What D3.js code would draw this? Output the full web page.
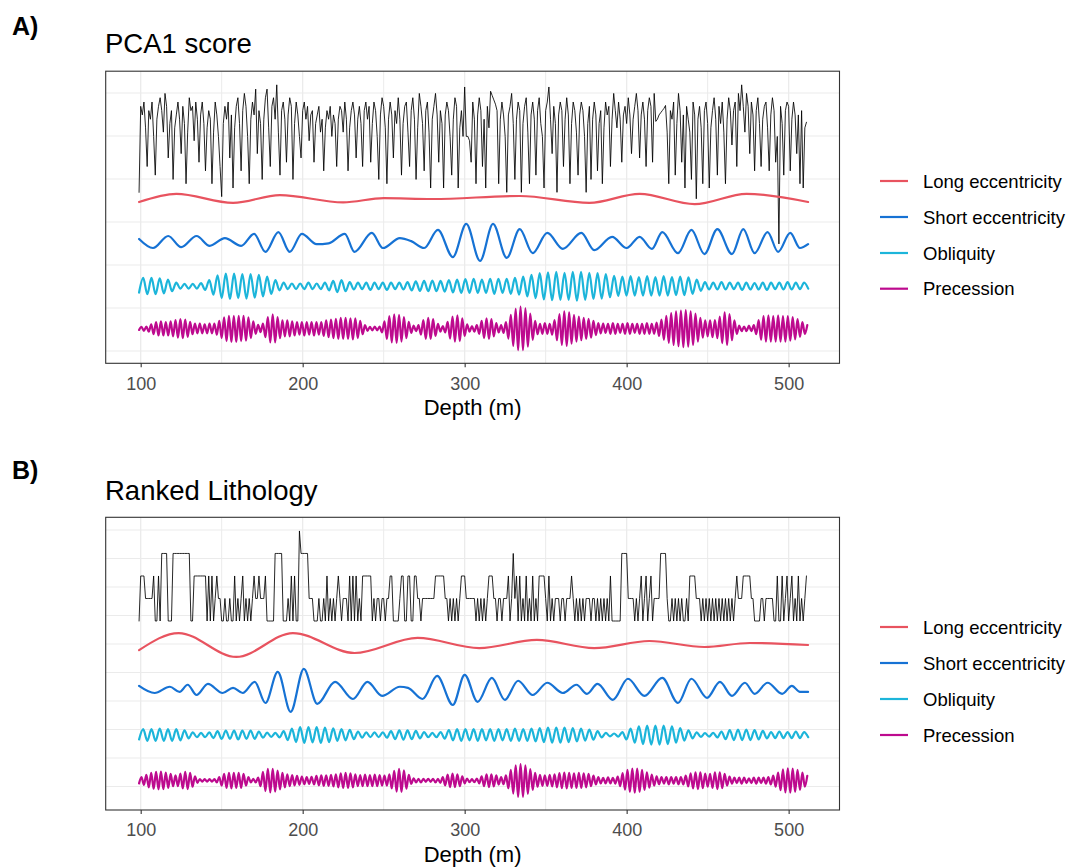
<!DOCTYPE html>
<html>
<head>
<meta charset="utf-8">
<script src="https://cdn.jsdelivr.net/npm/d3@7"></script>
<style>
    body { margin: 0; background: #fff; }
    svg text { font-family: "Liberation Sans", Arial, Helvetica, sans-serif; }
</style>
</head>
<body>
<svg id="chart" width="1074" height="867"></svg>
<script>
// ---- data ----
var depthTicks = [100, 200, 300, 400, 500];
var cycleNames = ["Long eccentricity", "Short eccentricity", "Obliquity", "Precession"];
var panelTitles = ["PCA1 score", "Ranked Lithology"];
var panelTags = ["A)", "B)"];

// PCA1 score, one sample per metre from 99 m (deviation from its own baseline)
var pcaStart = 99, pcaStep = 1;
var pca1Score = [
    -1.1,0.9,0.7,1.0,0.4,-0.5,0.8,0.6,1.0,0.2,
    -0.7,0.6,0.9,1.1,0.8,0.3,1.2,0.9,-0.3,0.5,
    0.8,-0.8,0.4,0.7,1.0,0.6,-0.2,0.9,0.5,-0.9,
    0.3,1.1,0.8,0.9,0.1,1.0,0.6,-0.4,0.7,1.0,
    0.5,-0.6,0.4,0.8,0.6,-0.9,0.3,1.0,0.7,0.2,
    -0.5,-1.2,0.5,0.9,0.6,1.0,-0.3,0.7,-1.0,0.4,
    0.9,1.1,0.5,-0.6,0.8,1.2,0.9,0.2,-0.9,0.6,
    1.0,0.7,1.3,-0.2,0.8,0.5,-0.8,0.6,1.1,1.3,
    0.4,-0.5,0.9,1.1,0.6,1.4,0.3,-0.7,0.8,1.0,
    0.6,-0.4,0.7,1.1,0.9,-0.8,0.5,1.0,0.7,0.2,
    -0.3,0.8,1.0,0.6,0.9,0.1,0.7,0.8,-0.4,0.5,
    0.7,0.9,0.3,0.6,-0.6,0.4,0.8,0.6,0.9,0.2,
    0.7,0.5,-0.5,0.6,0.9,0.8,0.3,1.0,0.6,-0.6,
    0.4,0.8,1.0,0.7,-0.3,0.6,0.9,0.5,-0.5,0.8,
    1.0,0.6,0.9,-0.4,0.5,1.0,0.8,0.2,-0.8,0.7,
    1.1,0.9,0.4,-0.9,0.6,1.0,0.7,-0.3,0.8,0.5,
    1.1,0.6,-0.7,0.5,0.9,1.0,0.3,-0.5,0.8,1.1,
    0.6,-0.8,0.4,1.2,0.9,0.5,-0.6,0.8,1.0,0.3,
    -1.0,0.6,0.9,1.2,0.7,-0.4,0.8,0.5,-1.0,0.7,
    1.0,0.8,0.2,-0.7,0.6,1.1,0.9,-1.0,0.4,0.8,
    0.2,1.35,0.2,0.2,0.1,-0.4,1.0,0.6,-0.9,0.7,
    1.1,0.8,-0.5,0.6,-1.0,0.9,0.4,1.25,1.15,1.05,
    0.95,0.8,-0.9,0.6,1.0,0.7,0.2,-1.1,0.7,0.9,
    1.2,0.5,-0.8,0.6,1.0,0.8,-1.1,0.5,0.9,1.1,
    0.3,-0.9,0.7,1.0,0.6,-0.7,0.8,1.1,0.5,0.2,
    -1.0,0.8,1.0,1.35,0.6,-0.2,0.9,0.5,-1.1,0.7,
    1.0,0.8,-0.5,0.6,1.1,0.7,-0.9,0.5,1.0,0.8,
    0.3,-0.7,0.7,1.0,0.8,0.2,-1.1,0.5,0.9,-0.8,
    0.6,1.0,0.7,-0.6,0.5,0.8,-0.9,0.4,1.0,0.7,
    0.9,-0.5,0.6,1.2,0.8,0.4,1.0,0.6,-0.4,0.7,
    0.9,0.5,1.1,0.7,-0.2,0.6,0.9,1.2,0.8,-0.3,
    0.7,1.0,0.6,-0.5,0.8,1.1,0.9,-0.4,1.2,0.55,
    0.6,0.7,0.75,0.8,0.85,0.92,0.3,-0.9,0.8,0.6,
    1.0,-0.7,0.5,1.2,0.8,-0.4,0.7,-1.0,0.9,0.6,
    0.3,-0.8,1.0,0.7,-1.25,0.6,0.9,0.4,-0.9,0.8,
    1.0,0.5,-1.0,0.4,0.8,1.1,0.6,-0.7,0.9,0.5,
    1.0,0.3,-0.9,0.6,1.1,0.8,0.0,0.8,1.0,-0.5,
    1.2,0.8,1.4,0.9,0.3,1.2,0.9,-0.2,1.0,0.7,
    -0.6,0.8,1.1,0.5,-0.5,0.6,0.9,1.0,0.4,-0.6,
    0.7,1.1,0.8,-0.4,0.2,-2.3,0.9,0.5,-0.7,0.8,
    1.0,0.9,-0.6,0.6,1.0,0.7,-0.2,0.7,-0.9,0.8,
    -1.0,0.4,0.53
];

// ranked lithology (1 = lowest rank), one sample per metre from 99 m
var lithStart = 99, lithStep = 1;
var lithRank = [
    1, 3,3,3, 2,2,2,2,2, 3, 1,1, 3, 1, 4,4,4,4, 1,1,1,
    4,4,4,4,4,4,4,4,4,4,4, 1,1, 3,3,3,3,3,3,3,3,
    1,3,1,3,1, 2,3,2,2, 1,1,2,1,1,2,1,1,
    3,1,2,1,2,3,1,2,1,2,1,2,3,2, 2,3,2,2,2,3, 1,1,1,1,1, 4,4,4,4,4,
    1,1,1,2,1,3,1,3,1,1, 5, 4,4,4,4,4, 2,2,2, 1,1,1,
    2,1,1,2,1,3,1,2,1,2,1,2,3,2,
    1,2,2,2,1,3,1,3,1,3,1,2,1,3,3,3,3,3,3,
    1,2,1,2,2,1,2,2,1,2,2, 3,3,1,1,1,1,2,
    3,3,1,1,3,3,1,1,3,3,2,2,1, 2,2,2,2,2,2,2,2, 3,3,3,3,3,3,
    2,2,1,2,1,2,1,2,1,2, 3,3,3, 2,2,2,2,2,2, 1,2,1,2,1,2,1,2, 3,3,3,
    2,2,1,2,2,1,2,2,2, 3,1,2, 4,
    2,3,1,3,1,2,1,3,1,2,1,3,1,2,1, 3,3,3,3,
    2,1,3,1,2,1,2,2,2,1,2,2,1,2,2,2,3,2,1,2,1,2,
    1,2,1,2,2,2,1,2,2,1,2,1,2,1,2,1,2,1,3,1,
    1,1,1,1,1, 4,4,4,4, 2,2,2,2, 1,2,1,2,3,1,2,3,1,2,3,1, 2,2,2,2, 4,4,4,4,
    2,1,1,2,1,2,1,2,1,2,1,1,2,1, 3,3,3,3, 2,2,2,
    1,2,1,2,1,2,1,2,1,2,1,2,1,2,1,2,1,2,1,2,1,2, 3, 2,2,2, 3,3,3,3,3, 2,2,
    1,1,1,1, 2,2,1,2,2,2,2,2, 1,1,
    3,1,1,3,1,2,3,1,2,3,1,2,1,3,1,2,1,2,3
];

// eccentricity filters: [depth, value] at turning points
var longEccA = [[99,-.07],[122,.12],[157,-.09],[186,.09],[225,-.08],[250,.02],[280,0],[334,.07],
    [377,-.09],[408,.12],[442,-.12],[474,.12],[512,-.07]];
var shortEccA = [[99,.07],[107.6,-.14],[117,.14],[125,-.12],[134.5,.14],[142.6,-.09],[152,.09],[162,-.09],
    [170,.19],[177,-.23],[185,.23],[192,-.23],[199.5,.19],[208.6,-.05],[216,-.03],[226,.19],[232,-.23],
    [242.7,.21],[249.5,-.14],[260,.09],[267,.02],[275,-.14],[283.5,.28],[292.7,-.35],[301,.42],[309.5,-.44],
    [317.5,.42],[326,-.37],[334,.3],[342,-.26],[351,.21],[360.6,-.16],[372,.21],[380,-.19],[391,.12],
    [400,-.14],[408,.12],[415.6,-.16],[422,.23],[431.7,-.26],[440,.28],[448,-.28],[456,.3],[465,-.28],
    [472,.3],[479,-.26],[487,.23],[493.5,-.23],[501,.21],[507,-.14],[512,-.05]];
var longEccB = [[99,-.18],[123.5,.42],[159,-.42],[194,.42],[232,-.28],[271,.25],[309,-.11],[344.6,.18],
    [380,-.11],[414,.14],[448,-.07],[476,.07],[512,0]];
var shortEccB = [[99,.14],[108.6,-.11],[118,.11],[124,-.07],[129,.18],[134.5,-.18],[141.5,.21],[150.6,-.11],
    [157,.07],[163,-.11],[170.4,.28],[177,-.46],[184.6,.63],[192.6,-.77],[200.7,.74],[209,-.49],[220,.28],
    [231,-.32],[240,.28],[249,-.21],[260,.11],[265,.07],[274,-.32],[283,.49],[292.7,-.53],[300,.53],
    [308,-.42],[316.8,.42],[324.8,-.35],[333,.32],[342,-.18],[351,.25],[360.6,-.11],[369,.18],[375.5,-.14],
    [382,.21],[391.5,-.35],[400.8,.39],[411,-.21],[422,.42],[431.7,-.46],[440,.39],[449.6,-.28],[457.6,.28],
    [465,-.21],[473,.25],[479,-.14],[487,.25],[496,-.14],[502,.14],[507,-.07],[512,-.07]];

// obliquity filters: turning points every 2.55 m from 99 m
var obliqStart = 99, obliqStep = 2.55;
var obliqA = [
    -.15,.19,-.19,.19,-.19,.18,-.17,.15,-.12,
    .08,-.06,.05,-.06,.05,-.06,.07,-.09,
    .14,-.2,.25,
    -.28,.29,-.3,.29,-.28,.28,-.29,.28,-.27,.26,-.24,.22,
    -.18,.14,-.1,.08,
    -.07,.06,-.07,.06,-.07,.08,-.07,.06,-.07,.08,-.1,.12,
    -.14,.14,-.12,
    .09,-.08,.08,-.07,.08,-.09,.08,-.07,.08,-.09,.08,-.07,.08,-.08,.09,-.1,.11,-.11,
    .12,-.12,.13,-.12,.12,-.13,.14,-.15,.15,-.16,.16,
    -.16,.17,-.16,.15,-.16,.17,-.18,.17,-.16,.17,-.18,.19,-.2,.22,-.24,
    .26,-.28,.3,
    -.31,.32,-.33,.33,-.32,.31,-.32,.33,-.34,.33,-.32,.31,-.3,.3,-.29,.28,-.26,.24,
    -.23,.22,-.22,.23,-.22,.21,-.22,.23,-.22,.21,-.22,.23,-.22,.21,-.21,.22,-.21,.2,-.18,.15,
    -.11,.09,-.08,.08,-.08,.09,-.08,.08,-.07,.08,-.09,.08,-.08,.07,-.08,.08,-.09,.08,-.07,.08,-.08,.09,-.08,.08,-.07,.08,-.06
];
var obliqB = [
    -.16,.2,-.21,.2,-.21,.22,-.21,.2,-.21,.2,-.19,.16,-.12,
    .09,-.08,.07,-.08,.09,-.11,
    .13,-.14,.15,-.14,.15,-.16,.15,-.14,.15,-.14,.12,-.1,
    .08,-.07,.07,-.09,.13,
    -.18,.22,-.25,.27,-.28,.27,-.26,.27,-.28,.26,-.25,.23,-.21,.2,-.19,.18,
    -.15,.12,-.1,.09,-.08,.09,-.08,.09,-.1,
    .13,-.15,.16,-.17,.16,-.15,.14,-.12,.1,
    -.08,.07,-.08,.1,-.13,
    .17,-.19,.2,-.21,.2,-.19,.2,-.21,.2,-.19,.2,-.21,.2,-.19,.2,-.21,.22,-.21,.2,-.21,.22,-.23,.24,-.25,.26,-.27,.26,-.27,.26,-.25,.24,-.23,.22,-.2,.19,
    -.17,.13,-.09,.07,-.05,
    .05,-.06,.1,-.16,
    .22,-.27,.3,-.32,.33,-.34,.33,-.34,.33,-.32,.3,-.27,.24,-.2,.16,-.12,.09,
    -.07,.06,-.06,.07,-.09,.12,
    -.15,.17,-.18,.19,-.18,.19,-.18,.17,-.16,.14,-.12,
    .1,-.11,.12,-.11,.1,-.11,.12,-.11,.1,-.08
];

// precession filters: turning points every 1.5 m from 99 m
var precStart = 99, precStep = 1.5;
var precA = [
    -.03,.04,-.05,.05,-.07,
    .1,-.13,.15,-.16,.17,-.16,.15,-.16,.17,-.18,
    .2,-.21,.22,-.22,.21,-.19,.16,
    -.13,.12,-.11,.12,-.11,.1,-.11,.12,-.11,.12,-.14,.18,
    -.22,.26,-.29,.3,-.31,.3,-.31,.3,-.29,.3,-.28,.26,-.22,.17,-.12,
    .09,-.08,.12,
    -.2,.27,-.32,.33,-.32,.27,
    -.22,.19,-.18,.19,-.18,.17,-.16,.15,
    -.14,.15,-.16,.15,-.14,.15,-.16,.15,-.14,.15,-.17,
    .19,-.2,.21,-.22,.23,-.24,.25,-.24,.25,-.24,
    .24,-.25,.24,-.22,.18,-.13,.08,
    -.05,.04,-.04,.05,-.04,.05,-.09,
    .17,-.24,.29,-.32,.33,-.33,.32,-.3,.27,-.22,.16,-.1,
    .07,-.06,.08,
    -.14,.2,-.24,.25,-.24,.22,-.17,.11,
    -.07,.06,-.09,
    .16,-.23,.28,-.3,.31,-.29,.24,-.17,
    .1,-.07,.06,-.07,.08,-.12,
    .18,-.22,.24,-.24,.22,-.18,.13,
    -.09,.08,-.1,.15,
    -.23,.32,-.4,.46,-.5,.51,-.5,.47,-.42,.35,-.26,.18,
    -.13,.11,-.12,.13,-.12,.11,-.14,.2,
    -.27,.34,-.38,.4,-.4,.38,-.35,.32,-.3,.28,-.27,.25,-.24,.23,
    -.21,.18,-.15,.13,
    -.11,.12,-.1,.11,-.12,.13,-.12,.11,-.1,.11,-.12,.13,-.12,.11,-.1,.11,-.12,.11,-.12,.13,-.12,.11,-.12,.14,-.17,.21,
    -.26,.3,-.33,.36,-.38,.4,-.41,.42,-.43,.43,-.42,.4,-.38,.35,-.3,.25,-.21,.19,-.18,.19,-.2,
    .2,-.22,.28,-.34,.38,-.38,.34,-.27,.19,-.12,
    .07,-.06,.05,-.06,.07,-.06,.08,-.13,
    .2,-.26,.29,-.3,.31,-.3,.29,-.3,.31,-.3,.29,-.3,.29,-.28,.27,-.25,.22,-.19,.15,
    -.12,.08
];
var precB = [
    -.1,.12,-.15,
    .2,-.24,.27,-.29,.3,-.31,.31,-.3,.28,-.26,.23,-.2,.18,
    -.2,.24,-.28,.3,-.3,.27,-.22,.15,
    -.08,.05,-.04,.05,-.04,.05,-.04,.05,-.07,.12,
    -.18,.23,-.26,.27,-.28,.27,-.26,.27,-.26,.23,-.18,.12,
    -.07,.06,-.07,.1,
    -.2,.3,-.37,.41,-.42,.41,-.39,.35,-.31,.27,-.24,
    .22,-.2,.19,-.17,.16,-.15,.14,-.13,.12,-.12,.13,-.14,
    .16,-.17,.18,-.19,.18,-.19,.2,-.21,.22,-.24,
    .25,-.26,.27,-.26,.25,-.24,.22,-.2,
    .19,-.2,.21,-.2,.19,-.2,.21,-.2,.19,-.18,.17,-.18,.22,
    -.28,.34,-.39,.41,-.4,.36,-.29,.2,
    -.12,.08,-.07,.06,-.07,.06,-.05,.06,-.05,.06,-.07,.06,-.08,.12,
    -.17,.21,-.23,.24,-.23,.22,-.2,.15,-.1,
    .07,-.06,.05,-.06,.07,-.1,
    .15,-.2,.22,-.23,.22,-.21,.18,-.14,
    .12,-.13,.18,
    -.27,.37,-.46,.53,-.57,.58,-.57,.53,-.47,.4,-.33,.27,-.22,
    .2,-.19,.18,-.19,.2,-.21,.22,
    -.24,.26,-.27,.28,-.28,.27,-.26,.25,-.26,.27,-.26,.25,-.24,.23,-.2,.17,-.14,.12,
    -.1,.09,-.1,.11,-.1,.09,-.11,.14,
    -.2,.26,-.32,.37,-.4,.42,-.43,.42,-.4,.37,-.33,.29,-.25,.21,-.18,.15,-.13,
    .12,-.11,.12,-.13,.12,-.11,.12,-.13,.12,-.14,.17,
    -.21,.25,-.28,.29,-.3,.29,-.27,.24,-.22,.23,-.26,.29,-.3,.29,-.27,.23,-.18,.14,
    -.11,.1,-.09,.1,-.11,.1,-.09,.08,-.09,.1,-.11,.1,-.09,.1,-.11,.12,-.14,.17,
    -.22,.28,-.34,.39,-.42,.43,-.43,.42,-.4,.37,-.33,.28,-.22,.16
];

// ---- layout / style ----
var cycleColors = ["#e8535f", "#1672d4", "#1cb5da", "#bd0a8e"];
var plotLeft = 105.7, plotRight = 839.5;

var svg = d3.select("#chart");
svg.append("rect").attr("width", 1074).attr("height", 867).attr("fill", "#fff");

var x = d3.scaleLinear().domain([78.4, 531.4]).range([plotLeft, plotRight]);

function onGrid(start, step, values) {
    return values.map(function (v, i) { return [start + i * step, v]; });
}

function shift(points, offset) {
    return points.map(function (p) { return [p[0], p[1] + offset]; });
}

var panels = [
    {
        top: 71.2, bottom: 363.3, yDomain: [-3.286, 3.507], hGrid: d3.range(-3, 4),
        tagY: 35, titleY: 53.3, legendY: [181, 217, 253, 288.7],
        series: [
            { pts: shift(onGrid(pcaStart, pcaStep, pca1Score), 1.79), color: "#000", width: 0.85, curve: d3.curveLinear },
            { pts: shift(longEccA, 0.535), color: cycleColors[0], width: 2.2, curve: d3.curveMonotoneX },
            { pts: shift(shortEccA, -0.465), color: cycleColors[1], width: 2.2, curve: d3.curveMonotoneX },
            { pts: shift(onGrid(obliqStart, obliqStep, obliqA), -1.49), color: cycleColors[2], width: 2.2, curve: d3.curveMonotoneX },
            { pts: shift(onGrid(precStart, precStep, precA), -2.48), color: cycleColors[3], width: 2.2, curve: d3.curveMonotoneX }
        ]
    },
    {
        top: 517.3, bottom: 810, yDomain: [-5.825, 4.446], hGrid: d3.range(-5, 5),
        tagY: 479, titleY: 499.5, legendY: [627, 663, 699, 735],
        series: [
            { pts: onGrid(lithStart, lithStep, lithRank).map(function (p) { return [p[0], 0.807 + (p[1] - 1) * 0.79]; }),
              color: "#000", width: 0.85, curve: d3.curveLinear },
            { pts: shift(longEccB, -0.035), color: cycleColors[0], width: 2.2, curve: d3.curveMonotoneX },
            { pts: shift(shortEccB, -1.61), color: cycleColors[1], width: 2.2, curve: d3.curveMonotoneX },
            { pts: shift(onGrid(obliqStart, obliqStep, obliqB), -3.19), color: cycleColors[2], width: 2.2, curve: d3.curveMonotoneX },
            { pts: shift(onGrid(precStart, precStep, precB), -4.79), color: cycleColors[3], width: 2.2, curve: d3.curveMonotoneX }
        ]
    }
];

panels.forEach(function (p, i) {
    var y = d3.scaleLinear().domain(p.yDomain).range([p.bottom, p.top]);
    var g = svg.append("g");

    // panel grid
    g.selectAll(".hgrid").data(p.hGrid).enter().append("line")
        .attr("x1", plotLeft).attr("x2", plotRight)
        .attr("y1", function (d) { return y(d); }).attr("y2", function (d) { return y(d); })
        .attr("stroke", "#ebebeb").attr("stroke-width", 1.1);
    g.selectAll(".vminor").data([150, 250, 350, 450]).enter().append("line")
        .attr("x1", function (d) { return x(d); }).attr("x2", function (d) { return x(d); })
        .attr("y1", p.top).attr("y2", p.bottom)
        .attr("stroke", "#ebebeb").attr("stroke-width", 1);
    g.selectAll(".vmajor").data(depthTicks).enter().append("line")
        .attr("x1", function (d) { return x(d); }).attr("x2", function (d) { return x(d); })
        .attr("y1", p.top).attr("y2", p.bottom)
        .attr("stroke", "#ebebeb").attr("stroke-width", 1.3);

    // series
    p.series.forEach(function (s) {
        var line = d3.line()
            .x(function (d) { return x(d[0]); })
            .y(function (d) { return y(d[1]); })
            .curve(s.curve);
        g.append("path")
            .datum(s.pts)
            .attr("fill", "none")
            .attr("stroke", s.color)
            .attr("stroke-width", s.width)
            .attr("stroke-linejoin", "round")
            .attr("stroke-linecap", "round")
            .attr("d", line);
    });

    // border
    g.append("rect")
        .attr("x", plotLeft).attr("y", p.top)
        .attr("width", plotRight - plotLeft).attr("height", p.bottom - p.top)
        .attr("fill", "none").attr("stroke", "#333").attr("stroke-width", 1.1);

    // x axis
    var ax = g.append("g")
        .attr("transform", "translate(0," + p.bottom + ")")
        .call(d3.axisBottom(x).tickValues(depthTicks).tickSize(4).tickPadding(9.5));
    ax.select(".domain").remove();
    ax.selectAll(".tick line").attr("stroke", "#333").attr("stroke-width", 1.1);
    ax.selectAll(".tick text")
        .attr("fill", "#4d4d4d")
        .style("font-size", "18px")
        .style("font-family", "'Liberation Sans', Arial, sans-serif");

    g.append("text")
        .attr("x", (plotLeft + plotRight) / 2).attr("y", p.bottom + 52)
        .attr("text-anchor", "middle")
        .style("font-size", "22px")
        .text("Depth (m)");

    // titles
    g.append("text").attr("x", 12).attr("y", p.tagY)
        .style("font-size", "25px").style("font-weight", "bold")
        .text(panelTags[i]);
    g.append("text").attr("x", 105).attr("y", p.titleY)
        .style("font-size", "27.5px")
        .text(panelTitles[i]);

    // legend
    var lg = g.selectAll(".legend").data(cycleNames).enter().append("g")
        .attr("transform", function (d, k) { return "translate(880," + p.legendY[k] + ")"; });
    lg.append("line")
        .attr("x1", 0).attr("x2", 28)
        .attr("stroke", function (d, k) { return cycleColors[k]; })
        .attr("stroke-width", 2.2);
    lg.append("text")
        .attr("x", 43).attr("y", 6.6)
        .style("font-size", "18.5px")
        .text(function (d) { return d; });
});
</script>
</body>
</html>
